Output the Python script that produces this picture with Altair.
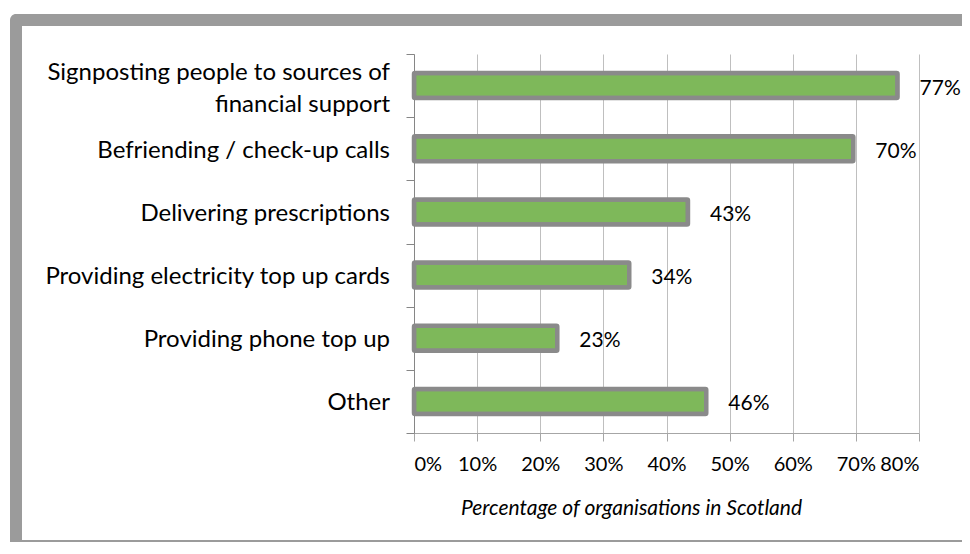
import altair as alt
import pandas as pd

categories = [
    "Signposting people to sources of|financial support",
    "Befriending / check-up calls",
    "Delivering prescriptions",
    "Providing electricity top up cards",
    "Providing phone top up",
    "Other",
]
values = [76.6, 69.6, 43.4, 34.1, 22.7, 46.3]
x_ticks = [0, 10, 20, 30, 40, 50, 60, 70, 80]
x_title = "Percentage of organisations in Scotland"

df = pd.DataFrame({"category": categories, "value": values})

FONT = "Lato"
W, H = 505, 379
PL, PT, PR, PB = 406, 46, 43, 109
FRAME = "#9b9b9b"

y_enc = alt.Y(
    "category:N",
    sort=categories,
    scale=alt.Scale(paddingInner=0, paddingOuter=0),
    axis=alt.Axis(
        title=None,
        labels=False,
        tickSize=8,
        tickBand="extent",
        tickColor="#868686",
        domainColor="#868686",
        grid=False,
    ),
)
x_enc = alt.X(
    "value:Q",
    scale=alt.Scale(domain=[0, 80], nice=False),
    axis=alt.Axis(
        values=x_ticks,
        labelExpr="datum.value + '%'",
        labelFont=FONT,
        labelFontSize=20,
        labelColor="black",
        labelPadding=13,
        tickSize=8,
        tickColor="#a6a6a6",
        domainColor="#a6a6a6",
        grid=True,
        gridColor="#bfbfbf",
        title=x_title,
        titleFont=FONT,
        titleFontSize=21,
        titleFontStyle="italic",
        titleFontWeight="normal",
        titleColor="black",
        titleX=217,
        titleY=75,
        titleAlign="center",
        titleBaseline="middle",
    ),
)

base = alt.Chart(df)
bars = base.mark_bar(
    size=25, color="#7eb85a", stroke="#8a8a8a", strokeWidth=4.5, cornerRadius=1
).encode(x=x_enc, y=y_enc)

labels = base.transform_calculate(
    lab="format(datum.value, '.0f') + '%'"
).mark_text(
    align="left", baseline="middle", dx=22, dy=3, font=FONT, fontSize=21, color="black"
).encode(x="value:Q", y=alt.Y("category:N", sort=categories), text="lab:N")

cat_single = base.transform_filter("indexof(datum.category, '|') < 0").mark_text(
    align="right", baseline="middle", dy=2, font=FONT, fontSize=24, color="black"
).encode(x=alt.value(-24), y=alt.Y("category:N", sort=categories), text="category:N")

cat_multi = base.transform_filter("indexof(datum.category, '|') >= 0").mark_text(
    align="right", baseline="middle", dy=-13, font=FONT, fontSize=24, color="black",
    lineBreak="|", lineHeight=32,
).encode(x=alt.value(-24), y=alt.Y("category:N", sort=categories), text="category:N")

fdf = pd.DataFrame({"k": [0]})
top_band = alt.Chart(fdf).mark_rect(color=FRAME, cornerRadiusTopLeft=6).encode(
    x=alt.value(-PL + 2), x2=alt.value(W + PR), y=alt.value(-PT + 6), y2=alt.value(-PT + 18)
)
left_band = alt.Chart(fdf).mark_rect(color=FRAME).encode(
    x=alt.value(-PL + 2), x2=alt.value(-PL + 14), y=alt.value(-PT + 14), y2=alt.value(H + PB)
)
bottom_line = alt.Chart(fdf).mark_rect(color=FRAME).encode(
    x=alt.value(-PL + 2), x2=alt.value(W + PR), y=alt.value(H + PB - 2), y2=alt.value(H + PB)
)

chart = alt.layer(
    top_band, left_band, bottom_line, bars, labels, cat_single, cat_multi
).properties(
    width=W,
    height=H,
    autosize=alt.AutoSizeParams(type="none"),
    padding={"left": PL, "top": PT, "right": PR, "bottom": PB},
).configure_view(stroke=None)

chart.save("out.html", embed_options={"renderer": "svg", "actions": False})
